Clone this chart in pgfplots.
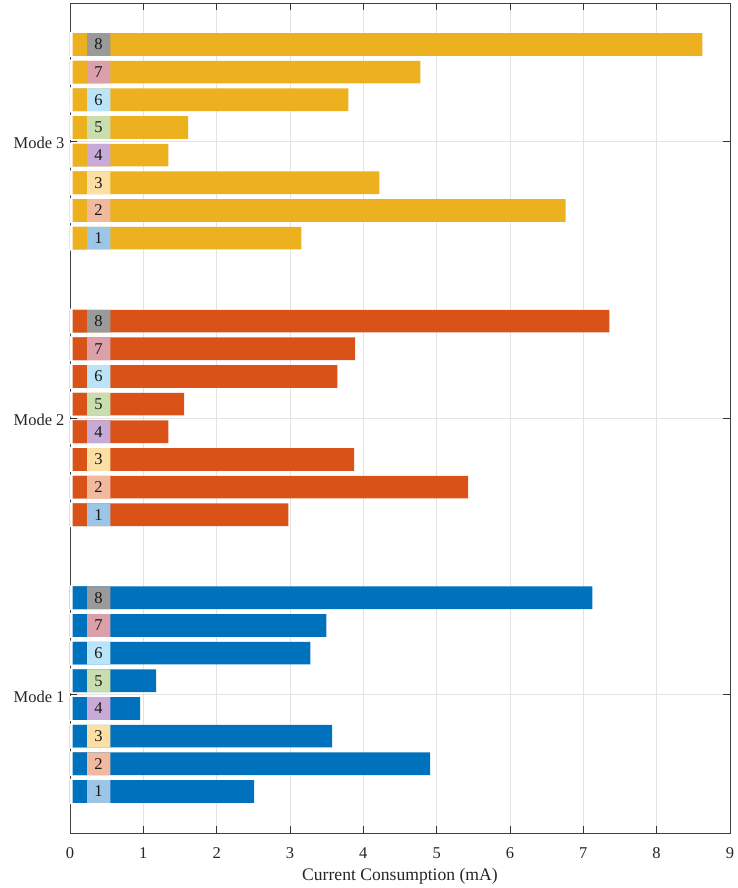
\documentclass[border=0pt]{standalone}
\usepackage{fontspec}
\setmainfont{Liberation Serif}
\usepackage{pgfplots}
\pgfplotsset{compat=1.18}
\usepackage{pgfplotstable}

\definecolor{mblue}{HTML}{0072BD}
\definecolor{morange}{HTML}{D95319}
\definecolor{myellow}{HTML}{EDB120}
\definecolor{sqA}{HTML}{9CC5E6}
\definecolor{sqB}{HTML}{F2B9A1}
\definecolor{sqC}{HTML}{FBDFA4}
\definecolor{sqD}{HTML}{C7AAD6}
\definecolor{sqE}{HTML}{C9DEAE}
\definecolor{sqF}{HTML}{BBE4F8}
\definecolor{sqG}{HTML}{DBA0AA}
\definecolor{sqH}{HTML}{9A9A9A}

\pgfplotstableread{
y v
0.65 2.51
0.75 4.91
0.85 3.575
0.95 0.957
1.05 1.176
1.15 3.277
1.25 3.495
1.35 7.124
}\modeone
\pgfplotstableread{
y v
1.65 2.977
1.75 5.43
1.85 3.875
1.95 1.34
2.05 1.558
2.15 3.645
2.25 3.89
2.35 7.356
}\modetwo
\pgfplotstableread{
y v
2.65 3.155
2.75 6.76
2.85 4.22
2.95 1.34
3.05 1.61
3.15 3.795
3.25 4.78
3.35 8.624
}\modethree

\pgfplotsset{
  layers/mylayers/.define layer set={axis background,axis grid,main,axis ticks,axis lines,axis tick labels,axis descriptions,axis foreground}{},
  mybar/.style={xbar, bar width=0.082, bar shift=0pt, draw=none},
}

\begin{document}
\begin{tikzpicture}
\begin{axis}[
  set layers=mylayers,
  scale only axis, width=660pt, height=830pt,
  xmin=0, xmax=9, ymin=0.5, ymax=3.5,
  xtick={0,1,...,9}, ytick={1,2,3}, yticklabels={Mode 1,Mode 2,Mode 3},
  xmajorgrids, ymajorgrids,
  grid style={color=black!11, line width=0.6pt},
  tick align=inside, major tick length=7pt,
  axis line style={color=black!75, line width=0.8pt},
  tick style={color=black!80, line width=0.6pt},
  ticklabel style={font=\fontsize{16.5}{16.5}\selectfont, text=black!85},
  xticklabel style={yshift=-11pt},
  yticklabel style={xshift=-2pt, yshift=-2pt},
  /pgf/number format/assume math mode=true,
  xlabel={Current Consumption (mA)},
  xlabel style={font=\fontsize{17.6}{18}\selectfont, text=black!85,
    at={(axis description cs:0.5,0)}, anchor=base, yshift=-48pt},
]
% main bars
\addplot[mybar, fill=mblue] table[x=v, y=y] {\modeone};
\addplot[mybar, fill=morange] table[x=v, y=y] {\modetwo};
\addplot[mybar, fill=myellow] table[x=v, y=y] {\modethree};
% numbered squares (0 to 0.55, later covered up to 0.23)
\addplot[mybar, fill=sqA] coordinates {(0.55,0.65) (0.55,1.65) (0.55,2.65)};
\addplot[mybar, fill=sqB] coordinates {(0.55,0.75) (0.55,1.75) (0.55,2.75)};
\addplot[mybar, fill=sqC] coordinates {(0.55,0.85) (0.55,1.85) (0.55,2.85)};
\addplot[mybar, fill=sqD] coordinates {(0.55,0.95) (0.55,1.95) (0.55,2.95)};
\addplot[mybar, fill=sqE] coordinates {(0.55,1.05) (0.55,2.05) (0.55,3.05)};
\addplot[mybar, fill=sqF] coordinates {(0.55,1.15) (0.55,2.15) (0.55,3.15)};
\addplot[mybar, fill=sqG] coordinates {(0.55,1.25) (0.55,2.25) (0.55,3.25)};
\addplot[mybar, fill=sqH] coordinates {(0.55,1.35) (0.55,2.35) (0.55,3.35)};
% main colour up to 0.23
\addplot[mybar, fill=mblue] coordinates {(0.23,0.65) (0.23,0.75) (0.23,0.85) (0.23,0.95) (0.23,1.05) (0.23,1.15) (0.23,1.25) (0.23,1.35)};
\addplot[mybar, fill=morange] coordinates {(0.23,1.65) (0.23,1.75) (0.23,1.85) (0.23,1.95) (0.23,2.05) (0.23,2.15) (0.23,2.25) (0.23,2.35)};
\addplot[mybar, fill=myellow] coordinates {(0.23,2.65) (0.23,2.75) (0.23,2.85) (0.23,2.95) (0.23,3.05) (0.23,3.15) (0.23,3.25) (0.23,3.35)};
% small white gap at the start of each bar
\addplot[xbar, bar width=0.09, bar shift=0pt, draw=none, fill=white] coordinates {(0.035,0.65) (0.035,0.75) (0.035,0.85) (0.035,0.95) (0.035,1.05) (0.035,1.15) (0.035,1.25) (0.035,1.35) (0.035,1.65) (0.035,1.75) (0.035,1.85) (0.035,1.95) (0.035,2.05) (0.035,2.15) (0.035,2.25) (0.035,2.35) (0.035,2.65) (0.035,2.75) (0.035,2.85) (0.035,2.95) (0.035,3.05) (0.035,3.15) (0.035,3.25) (0.035,3.35)};
% numbers
\addplot[only marks, mark=none, nodes near coords, point meta=explicit symbolic,
  every node near coord/.append style={anchor=center, font=\fontsize{16.5}{16.5}\selectfont, text=black!90, inner sep=0pt}]
  table[x=x, y=y, meta=l] {
x y l
0.39 0.65 1
0.39 0.75 2
0.39 0.85 3
0.39 0.95 4
0.39 1.05 5
0.39 1.15 6
0.39 1.25 7
0.39 1.35 8
0.39 1.65 1
0.39 1.75 2
0.39 1.85 3
0.39 1.95 4
0.39 2.05 5
0.39 2.15 6
0.39 2.25 7
0.39 2.35 8
0.39 2.65 1
0.39 2.75 2
0.39 2.85 3
0.39 2.95 4
0.39 3.05 5
0.39 3.15 6
0.39 3.25 7
0.39 3.35 8
};
\end{axis}
\path ([shift={(-70pt,-55pt)}]current axis.south west) rectangle ([shift={(3pt,3pt)}]current axis.north east);
\end{tikzpicture}
\end{document}
